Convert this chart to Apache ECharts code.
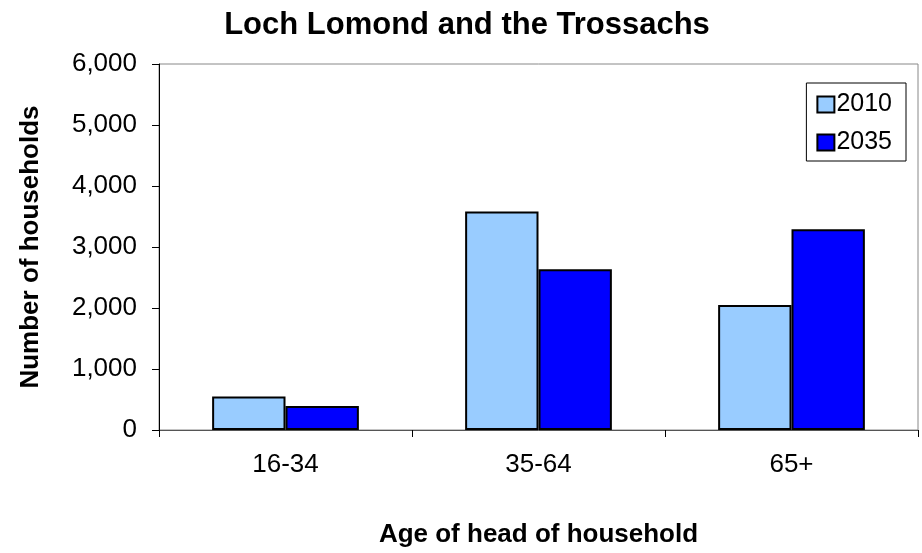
<!DOCTYPE html>
<html>
<head>
<meta charset="utf-8">
<script src="https://cdn.jsdelivr.net/npm/echarts@6/dist/echarts.min.js"></script>
<style>
  html, body { margin: 0; padding: 0; background: #fff; }
  #chart { width: 922px; height: 553px; }
</style>
</head>
<body>
<div id="chart"></div>
<script>
const categories = ['16-34', '35-64', '65+']
const seriesNames = ['2010', '2035']
const values2010 = [550, 3580, 2050]
const values2035 = [395, 2635, 3290]

const font = 'Arial, "Liberation Sans", sans-serif'
const myChart = echarts.init(document.getElementById('chart'))

const option = {
  animation: false,
  title: {
    text: 'Loch Lomond and the Trossachs',
    left: 462,
    textAlign: 'center',
    top: 5,
    textStyle: { fontFamily: font, fontSize: 31, fontWeight: 'bold', color: '#000' }
  },
  legend: {
    data: seriesNames,
    orient: 'vertical',
    right: 16,
    top: 83,
    itemWidth: 17,
    itemHeight: 16,
    itemGap: 13,
    padding: [9, 14, 6, 10],
    borderColor: '#000',
    borderWidth: 1,
    icon: 'rect',
    textStyle: { fontFamily: font, fontSize: 25, color: '#000', padding: [0, 0, 0, -3] }
  },
  grid: {
    left: 159,
    right: 4,
    top: 64,
    bottom: 123,
    show: true,
    borderColor: '#888',
    borderWidth: 1
  },
  xAxis: {
    type: 'category',
    data: categories,
    name: 'Age of head of household',
    nameLocation: 'middle',
    nameGap: 92,
    nameTextStyle: { fontFamily: font, fontSize: 26, fontWeight: 'bold', color: '#000' },
    axisLine: { lineStyle: { color: '#555', width: 1 } },
    axisTick: { show: true, alignWithLabel: false, length: 7, lineStyle: { color: '#000' } },
    axisLabel: { fontFamily: font, fontSize: 26, color: '#000', margin: 22 }
  },
  yAxis: {
    type: 'value',
    min: 0,
    max: 6000,
    interval: 1000,
    name: 'Number of households',
    nameLocation: 'middle',
    nameGap: 115,
    nameTextStyle: { fontFamily: font, fontSize: 26, fontWeight: 'bold', color: '#000' },
    axisLine: { show: true, lineStyle: { color: '#000', width: 1 } },
    axisTick: { show: true, length: 7, lineStyle: { color: '#000' } },
    splitLine: { show: false },
    axisLabel: {
      fontFamily: font, fontSize: 26, color: '#000', margin: 22,
      formatter: v => v.toLocaleString('en-US')
    }
  },
  series: [
    {
      name: seriesNames[0],
      type: 'bar',
      data: values2010,
      barGap: '0%',
      barCategoryGap: '42%',
      itemStyle: { color: '#99ccff', borderColor: '#000', borderWidth: 2 }
    },
    {
      name: seriesNames[1],
      type: 'bar',
      data: values2035,
      itemStyle: { color: '#0000ff', borderColor: '#000', borderWidth: 2 }
    }
  ]
}

myChart.setOption(option)
</script>
</body>
</html>
